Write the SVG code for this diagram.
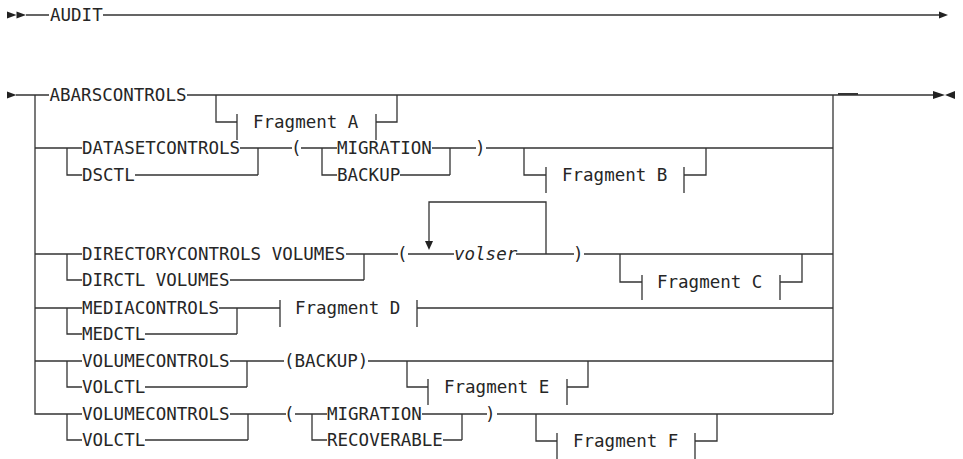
<svg xmlns="http://www.w3.org/2000/svg" width="963" height="459" viewBox="0 0 963 459">
<style>
text{font-family:"DejaVu Sans Mono","Liberation Mono",monospace;font-size:17.5px;fill:#262626}
.it{font-style:italic}
.c path,.c line{fill:none;stroke:#333;stroke-width:1.3}
.ah{fill:#222}
</style>
<rect width="963" height="459" fill="#fff"/>
<g class="c" id="connectors">
<path d="M26,15H49M103,15H940"/>
<path d="M16,95H49M187,95H933"/>
<path d="M838,94H858" style="stroke-width:2"/>
<path d="M35,95V414H82"/>
<path d="M833,95V414"/>
<path d="M216,95V122H237M237,114V140M376,114V140M376,122H397V95"/>
<path d="M35,148H82M67,148V175H82M240,148H292M258,148V175M135,175H258M301,148H337M322,148V175H337M432,148H476M450,148V175M400,175H450M486,148H833"/>
<path d="M524,148V175H546M546,167V193M684,167V193M684,175H706V148"/>
<path d="M35,254H82M67,254V280H82M346,254H398M364,254V280M230,280H364M408,254H454M429,241V202H546V254M516,254H574M584,254H833"/>
<path d="M620,254V282H642M642,275V300M780,275V300M780,282H802V254"/>
<path d="M35,308H82M67,308V334H82M219,308H280M237,308V334M145,334H237M280,300V327M417,300V327M417,308H833"/>
<path d="M35,361H82M67,361V387H82M230,361H284M247,361V387M145,387H247M368,361H833"/>
<path d="M407,361V387H428M428,379V405M567,379V405M567,387H588V361"/>
<path d="M67,414V440H82M230,414H286M248,414V440M145,440H248M295,414H327M312,414V440H327M422,414H487M462,414V440M443,440H462M497,414H833"/>
<path d="M536,414V441H557M557,433V459M695,433V459M695,441H717V414"/>
<polygon class="ah" points="7,11.5 16.5,15 7,18.5"/>
<polygon class="ah" points="16.5,11.5 26,15 16.5,18.5"/>
<polygon class="ah" points="939,11.5 948,15 939,18.5"/>
<polygon class="ah" points="7,91.5 16.5,95 7,98.5"/>
<polygon class="ah" points="933,91 945,95 933,99"/>
<polygon class="ah" points="955,91 945,95 955,99"/>
<polygon class="ah" points="425,241 433,241 429,250"/>
</g>
<g id="audit"><text x="50" y="21">AUDIT</text></g>
<g id="abarscontrols"><text x="49.5" y="101">ABARSCONTROLS</text></g>
<g id="fragmentA"><text x="253" y="128">Fragment A</text></g>
<g id="datasetcontrols"><text x="82" y="154">DATASETCONTROLS</text></g>
<g id="dsctl"><text x="82" y="181">DSCTL</text></g>
<g id="lparen1"><text x="291" y="154">(</text></g>
<g id="migration1"><text x="337" y="154">MIGRATION</text></g>
<g id="backup1"><text x="337" y="181">BACKUP</text></g>
<g id="rparen1"><text x="475" y="154">)</text></g>
<g id="fragmentB"><text x="562" y="181">Fragment B</text></g>
<g id="dirctlvolumes-long"><text x="82" y="260">DIRECTORYCONTROLS VOLUMES</text></g>
<g id="dirctlvolumes"><text x="82" y="286">DIRCTL VOLUMES</text></g>
<g id="lparen2"><text x="397" y="260">(</text></g>
<g id="volser"><text class="it" x="454" y="260">volser</text></g>
<g id="rparen2"><text x="573" y="260">)</text></g>
<g id="fragmentC"><text x="657" y="288">Fragment C</text></g>
<g id="mediacontrols"><text x="82" y="314">MEDIACONTROLS</text></g>
<g id="medctl"><text x="82" y="340">MEDCTL</text></g>
<g id="fragmentD"><text x="295" y="314">Fragment D</text></g>
<g id="volumecontrols1"><text x="82" y="367">VOLUMECONTROLS</text></g>
<g id="volctl1"><text x="82" y="393">VOLCTL</text></g>
<g id="backup2"><text x="284" y="367">(BACKUP)</text></g>
<g id="fragmentE"><text x="444" y="393">Fragment E</text></g>
<g id="volumecontrols2"><text x="82" y="420">VOLUMECONTROLS</text></g>
<g id="volctl2"><text x="82" y="446">VOLCTL</text></g>
<g id="lparen3"><text x="284" y="420">(</text></g>
<g id="migration2"><text x="327" y="420">MIGRATION</text></g>
<g id="recoverable"><text x="327" y="446">RECOVERABLE</text></g>
<g id="rparen3"><text x="485" y="420">)</text></g>
<g id="fragmentF"><text x="573" y="447">Fragment F</text></g>
</svg>
